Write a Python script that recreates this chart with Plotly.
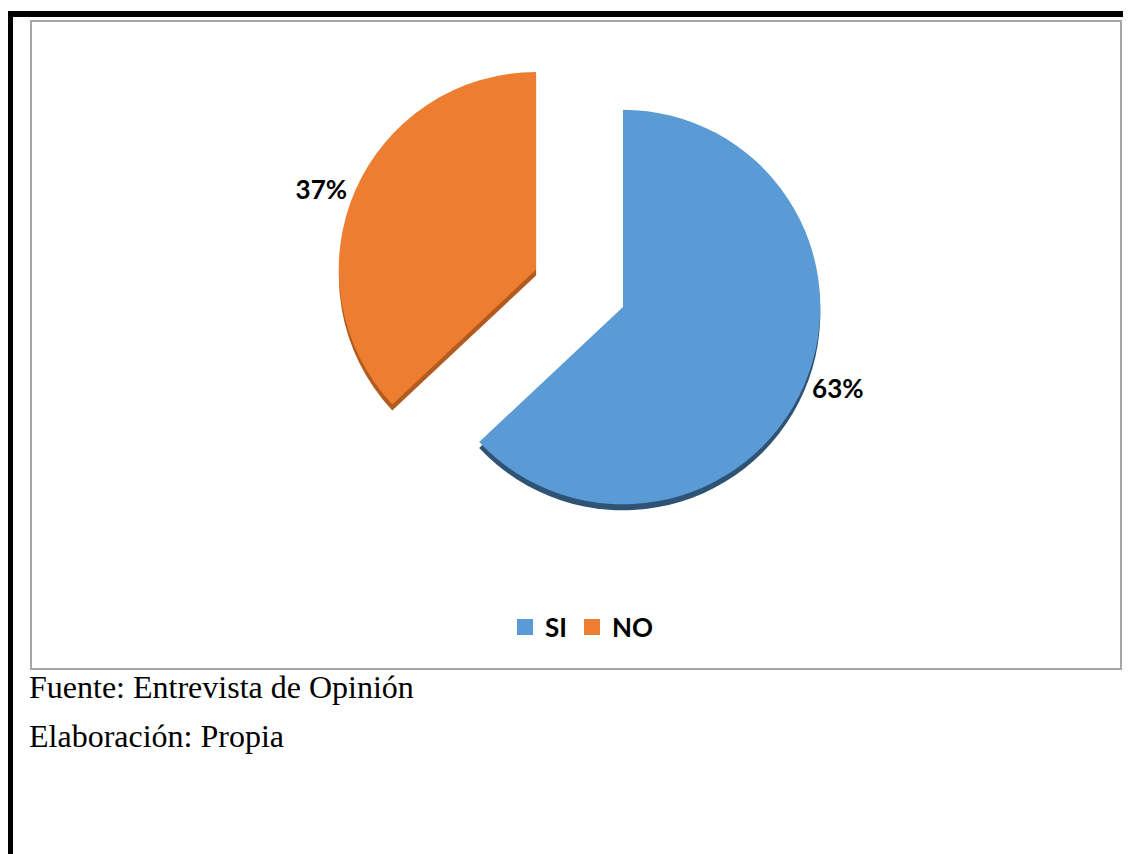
import plotly.graph_objects as go

# Data
labels = ["SI", "NO"]
values = [63, 37]
colors = ["#5B9BD5", "#ED7D31"]
rim_colors = ["#2F5374", "#B35A1E"]
pulls = [0, 0.48]
notes = ["Fuente: Entrevista de Opinión", "Elaboración: Propia"]

W, H = 1131, 854
OFF = 8  # page body margin of the browser


def px(x):
    return (x - OFF) / W


def py(y):
    return 1 - (y - OFF) / H


dom_x = [px(331), px(915)]
dom_y = [py(599), py(15)]
rim_off = 6 / H

fig = go.Figure()
# darker copy slightly below: 3D rim effect
fig.add_trace(go.Pie(
    labels=labels, values=values, sort=False, direction="clockwise", rotation=0,
    pull=pulls, marker=dict(colors=rim_colors, line=dict(width=0)),
    textinfo="none", showlegend=False, hoverinfo="skip", automargin=False,
    domain=dict(x=dom_x, y=[dom_y[0] - rim_off, dom_y[1] - rim_off]),
))
fig.add_trace(go.Pie(
    labels=labels, values=values, sort=False, direction="clockwise", rotation=0,
    pull=pulls, marker=dict(colors=colors, line=dict(width=0)),
    textinfo="percent", textposition="outside", automargin=False, showlegend=False,
    textfont=dict(family="Lato", size=26, color="black", weight="bold"),
    domain=dict(x=dom_x, y=dom_y),
))
# legend entries (larger square swatches)
for lab, col in zip(labels, colors):
    fig.add_trace(go.Scatter(
        x=[None], y=[None], mode="markers", name=lab,
        marker=dict(symbol="square", size=18, color=col, line=dict(width=0)),
        hoverinfo="skip",
    ))

shapes = [
    # black page borders
    dict(type="rect", xref="paper", yref="paper", x0=px(7), x1=px(1145), y0=py(17), y1=py(11),
         fillcolor="black", line=dict(width=0)),
    dict(type="rect", xref="paper", yref="paper", x0=px(7), x1=px(13), y0=py(870), y1=py(11),
         fillcolor="black", line=dict(width=0)),
    # chart frame
    dict(type="rect", xref="paper", yref="paper", x0=px(31), x1=px(1121), y0=py(669), y1=py(21),
         fillcolor="rgba(0,0,0,0)", line=dict(color="#A6A6A6", width=2)),
]

annotations = [
    dict(text=notes[0], xref="paper", yref="paper", x=px(27), y=py(687), xanchor="left",
         yanchor="middle", showarrow=False,
         font=dict(family="Liberation Serif", size=32, color="black")),
    dict(text=notes[1], xref="paper", yref="paper", x=px(27), y=py(736), xanchor="left",
         yanchor="middle", showarrow=False,
         font=dict(family="Liberation Serif", size=32, color="black")),
]

fig.update_layout(
    width=W, height=H, autosize=False,
    margin=dict(l=0, r=0, t=0, b=0, pad=0, autoexpand=False),
    paper_bgcolor="white", plot_bgcolor="white",
    xaxis=dict(visible=False), yaxis=dict(visible=False),
    shapes=shapes, annotations=annotations,
    legend=dict(orientation="h", x=px(582), xanchor="center", y=py(627), yanchor="middle",
                font=dict(family="Lato", size=26, color="black", weight="bold"),
                bgcolor="rgba(0,0,0,0)", traceorder="normal", itemsizing="trace"),
)

fig.write_html("out.html")
